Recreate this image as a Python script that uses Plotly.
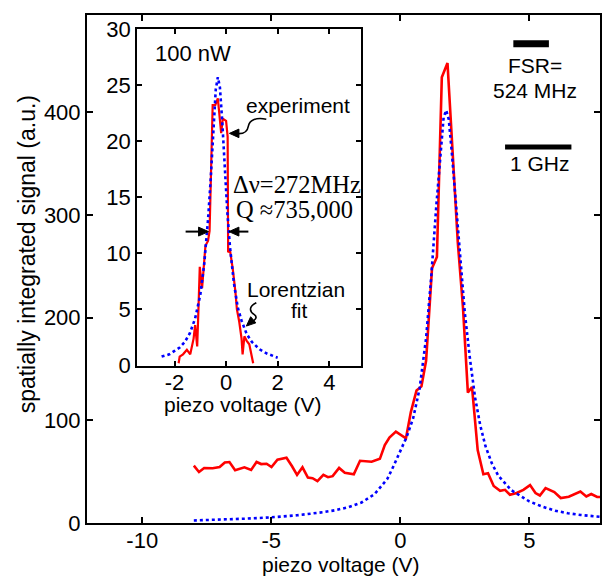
import plotly.graph_objects as go

# ---------------- data ----------------
main_exp_x = [-8.0, -7.8, -7.6, -7.27, -7.0, -6.8, -6.62, -6.4, -6.04, -5.78, -5.57, -5.39, -5.18,
              -4.99, -4.76, -4.41, -4.2, -4.0, -3.79, -3.58, -3.4, -3.21, -2.98, -2.8, -2.62, -2.37,
              -2.15, -1.8, -1.56, -1.34, -1.11, -0.79, -0.6, -0.42, -0.17, 0.22, 0.41, 0.63, 0.82,
              1.0, 1.23, 1.42, 1.61, 1.83, 2.03, 2.23, 2.43, 2.62, 2.78, 3.0, 3.22, 3.4, 3.62, 3.87,
              4.06, 4.25, 4.51, 4.77, 5.03, 5.24, 5.41, 5.63, 5.97, 6.22, 6.53, 6.76, 6.98, 7.21,
              7.4, 7.63, 7.8]
main_exp_y = [55.8, 49.7, 53.6, 53.3, 54.5, 59.0, 59.4, 51.3, 54.2, 51.6, 59.4, 57.4, 57.7,
              54.5, 61.6, 63.5, 55.5, 46.8, 54.2, 44.2, 43.6, 40.7, 46.8, 44.6, 45.6, 53.6,
              49.0, 47.5, 60.6, 60.3, 59.7, 62.5, 75.8, 83.2, 89.0, 82.5, 108, 129, 133,
              158, 248, 259, 434, 448, 362, 273, 210, 127, 132.5, 71, 47.5, 48.5, 36, 31.4,
              32.3, 27.5, 29.2, 32.3, 36.9, 29.2, 26.8, 34.0, 30.1, 24.3, 25.6, 28.2, 30.7, 25.9,
              28.2, 25.3, 25.3]

main_fit_x = [-8, -7, -6, -5, -4, -3, -2.5, -2, -1.5, -1, -0.5, -0.25, 0, 0.25, 0.5, 0.75, 1.0,
              1.2, 1.4, 1.55, 1.68, 1.78, 1.88, 2.0, 2.15, 2.3, 2.5, 2.7, 2.9, 3.1, 3.3, 3.55,
              3.8, 4.3, 5.0, 5.5, 6.0, 6.5, 7.0, 7.75]
main_fit_y = [2.5, 3.2, 4.2, 5.5, 7.5, 10.5, 12.5, 15.5, 20, 28, 43, 56, 70, 84, 102, 131, 180,
              240, 310, 360, 395, 402, 393, 360, 315, 265, 205, 160, 122, 95, 75, 58,
              46, 32, 21, 16, 12, 9.5, 7.8, 6]

inset_exp_x = [-1.84, -1.80, -1.67, -1.52, -1.39, -1.26, -1.20, -1.12, -1.07, -1.02, -0.93, -0.84,
               -0.80, -0.70, -0.64, -0.52, -0.42, -0.32, -0.19, -0.13, 0.0, 0.06, 0.08, 0.15,
               0.26, 0.36, 0.42, 0.51, 0.60, 0.64, 0.71, 0.80, 0.90, 1.05]
inset_exp_y = [0.2, 0.8, 1.0, 1.4, 1.0, 2.4, 3.6, 1.7, 5.1, 8.8, 6.9, 9.2,
               10.7, 11.1, 12.0, 23.2, 23.2, 23.8, 20.7, 22.0, 21.8, 20.4, 10.1, 10.3,
               8.6, 6.6, 5.0, 3.9, 2.4, 1.0, 2.6, 2.2, 1.9, 0.2]

inset_fit_x = [-2.5, -2.2, -2.0, -1.8, -1.6, -1.4, -1.2, -1.0, -0.85, -0.7, -0.6, -0.5, -0.4,
               -0.32, -0.24, -0.15, -0.05, 0.05, 0.15, 0.3, 0.45, 0.6, 0.8, 1.0, 1.3, 1.6, 2.0]
inset_fit_y = [0.8, 1.0, 1.3, 1.6, 2.1, 2.9, 4.2, 6.3, 9.0, 13.0, 16.5, 21.0, 24.6,
               25.7, 24.8, 21.8, 17.6, 13.6, 10.6, 7.4, 5.2, 4.0, 2.8, 2.1, 1.45, 1.05, 0.7]

main_xtick_vals = [-10, -5, 0, 5]
main_xtick_text = ["-10", "-5", "0", "5"]
main_ytick_vals = [0, 100, 200, 300, 400]
main_ytick_text = ["0", "100", "200", "300", "400"]
inset_xtick_vals = [-2, 0, 2, 4]
inset_xtick_text = ["-2", "0", "2", "4"]
inset_ytick_vals = [0, 5, 10, 15, 20, 25, 30]
inset_ytick_text = ["0", "5", "10", "15", "20", "25", "30"]

# ---------------- layout geometry ----------------
W, H = 605, 578
L, R, T, B = 87, 3, 11, 55
PW, PH = W - L - R, H - T - B


def px(x):
    return (x - L) / PW


def py(y):
    return (H - B - y) / PH


SANS = "Liberation Sans, Arial, Helvetica, sans-serif"
SERIF = "Liberation Serif, Times New Roman, serif"

fig = go.Figure()
fig.add_trace(go.Scatter(x=main_exp_x, y=main_exp_y, mode="lines",
                         line=dict(color="#ff0000", width=2.6), xaxis="x", yaxis="y",
                         showlegend=False, hoverinfo="skip"))
fig.add_trace(go.Scatter(x=main_fit_x, y=main_fit_y, mode="lines",
                         line=dict(color="#0000ff", width=2.6, dash="dot"), xaxis="x", yaxis="y",
                         showlegend=False, hoverinfo="skip"))
fig.add_trace(go.Scatter(x=inset_exp_x, y=inset_exp_y, mode="lines",
                         line=dict(color="#ff0000", width=2.2), xaxis="x2", yaxis="y2",
                         showlegend=False, hoverinfo="skip"))
fig.add_trace(go.Scatter(x=inset_fit_x, y=inset_fit_y, mode="lines",
                         line=dict(color="#0000ff", width=2.6, dash="dot"), xaxis="x2", yaxis="y2",
                         showlegend=False, hoverinfo="skip"))

axis_common = dict(showline=True, linecolor="black", linewidth=2, mirror="ticks",
                   ticks="inside", tickcolor="black", tickwidth=2, showgrid=False,
                   zeroline=False, tickfont=dict(family=SANS, size=22, color="black"))

fig.update_layout(
    width=W, height=H,
    margin=dict(l=L, r=R, t=T, b=B),
    paper_bgcolor="white", plot_bgcolor="white",
    xaxis=dict(domain=[0, 1], range=[-12.14, 7.74], tickvals=main_xtick_vals,
               ticktext=main_xtick_text, ticklen=6, ticklabelstandoff=-3, **axis_common),
    yaxis=dict(domain=[0, 1], range=[0, 494.7], tickvals=main_ytick_vals,
               ticktext=main_ytick_text, ticklen=6, **axis_common),
    xaxis2=dict(domain=[px(137.3), px(362.3)], range=[-3.45, 5.24], anchor="y2",
                tickvals=inset_xtick_vals, ticktext=inset_xtick_text, ticklen=5,
                ticklabelstandoff=-4, **axis_common),
    yaxis2=dict(domain=[py(364.3), py(25)], range=[0, 30], anchor="x2",
                tickvals=inset_ytick_vals, ticktext=inset_ytick_text, ticklen=5, **axis_common),
)

annos = []


def text(s, x, y, size=21, family=SANS, angle=0):
    annos.append(dict(text=s, x=px(x), y=py(y), xref="paper", yref="paper",
                      xanchor="center", yanchor="middle", showarrow=False, textangle=angle,
                      font=dict(family=family, size=size, color="black")))


text("piezo voltage (V)", 341.5, 565)
text("spatially integrated signal (a.u.)", 27, 252, size=23, angle=-90)
text("piezo voltage (V)", 244, 404)
text("100 nW", 193, 50, size=22)
text("experiment", 298.5, 102)
text("Δν=272MHz", 298, 182, size=24.5, family=SERIF)
text("Q ≈735,000", 295, 207, size=24.5, family=SERIF)
text("Lorentzian", 296.5, 288)
text("fit", 300, 309)
text("FSR=", 537, 62)
text("524 MHz", 536.5, 87)
text("1 GHz", 541.5, 161)
fig.update_layout(annotations=annos)

shapes = []


def path_from(points, closed=False, fill=None, width=2):
    d = "M " + " L ".join(f"{px(a):.5f},{py(b):.5f}" for a, b in points)
    if closed:
        d += " Z"
    shapes.append(dict(type="path", path=d, xref="paper", yref="paper",
                       line=dict(color="black", width=width),
                       fillcolor=fill if fill else "rgba(0,0,0,0)"))


def curve(d_pts, width=2):
    parts = []
    for cmd, pts in d_pts:
        parts.append(cmd + " " + " ".join(f"{px(a):.5f},{py(b):.5f}" for a, b in pts))
    shapes.append(dict(type="path", path=" ".join(parts), xref="paper", yref="paper",
                       line=dict(color="black", width=width)))


def rect(x0, y0, x1, y1):
    shapes.append(dict(type="rect", x0=px(x0), x1=px(x1), y0=py(y0), y1=py(y1),
                       xref="paper", yref="paper", line=dict(width=0), fillcolor="black"))


# scale bars
rect(515, 36.5, 550.7, 43.5)
rect(506.7, 141.5, 573.3, 146.5)

# FWHM arrows
path_from([(186, 229.3), (200, 229.3)], width=2)
path_from([(209, 229.3), (199, 224.8), (199, 233.8)], closed=True, fill="black", width=1)
path_from([(249, 229.3), (238, 229.3)], width=2)
path_from([(229.5, 229.3), (239.5, 224.8), (239.5, 233.8)], closed=True, fill="black", width=1)

# curly arrow to "experiment"
curve([("M", [(267, 116)]), ("C", [(256, 114), (250, 117), (249, 123)]),
       ("C", [(248, 129), (245, 131), (238, 130.5)])], width=1.6)
path_from([(230, 130.3), (239.5, 126), (239.5, 134.6)], closed=True, fill="black", width=1)

# curly arrow to "Lorentzian fit"
curve([("M", [(257, 301)]), ("C", [(249, 305), (250, 310), (255, 313)]),
       ("C", [(259, 316), (255, 319), (252, 320)])], width=1.6)
path_from([(247, 324.5), (256.5, 321.3), (251.3, 315.1)], closed=True, fill="black", width=1)

fig.update_layout(shapes=shapes)

fig.write_html("out.html", config={"displayModeBar": False},
               post_script="document.body.style.margin='0px';")
